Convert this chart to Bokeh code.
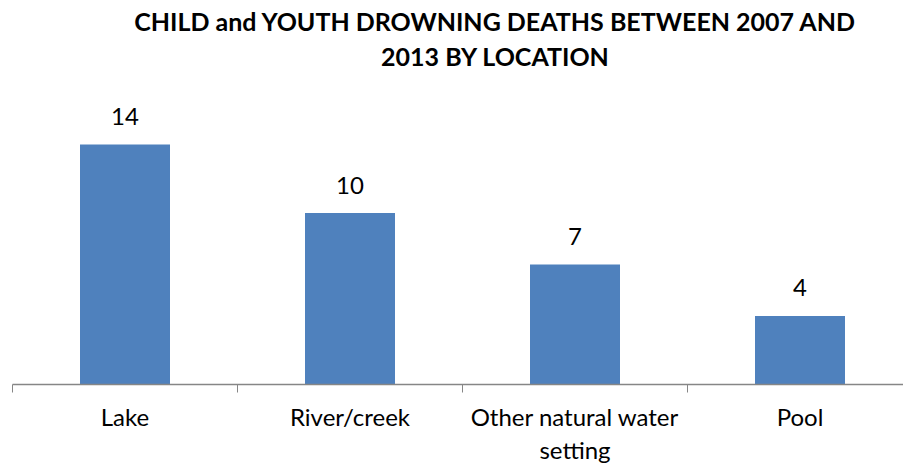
from bokeh.plotting import figure
from bokeh.models import Range1d, FixedTicker, Label
from bokeh.core.properties import value
from bokeh.embed import file_html
from bokeh.resources import INLINE

categories = ["Lake", "River/creek", "Other natural water\nsetting", "Pool"]
deaths = [14, 10, 7, 4]
title_lines = ["CHILD and YOUTH DROWNING DEATHS BETWEEN 2007 AND", "2013 BY LOCATION"]

FONT = "Lato"
BAR = "#4F81BD"
AXIS = "#868686"

idx = list(range(len(categories)))
px_per_unit = 17.14
frame_w = 891
frame_h = 376
cat_px = 225

p = figure(
    frame_width=frame_w, frame_height=frame_h,
    x_range=Range1d(-0.5, -0.5 + frame_w / cat_px),
    y_range=Range1d(0, frame_h / px_per_unit),
    output_backend="svg", toolbar_location=None,
    min_border_left=12, min_border_right=0,
    min_border_top=8, min_border_bottom=80,
)

# title, centred a little right of the frame centre as in the reference
title_x = (495 - 12) / cat_px - 0.5
for k, line in enumerate(title_lines):
    p.add_layout(Label(x=title_x, y=(364 - 35 * k) / px_per_unit, text=line,
                       text_align="center", text_baseline="alphabetic",
                       text_font=FONT, text_font_size="25px", text_font_style="bold",
                       text_color="black"))

p.vbar(x=idx, top=deaths, width=0.4, fill_color=BAR, line_color=None)
p.text(x=idx, y=deaths, text=[str(v) for v in deaths],
       text_align="center", text_baseline="alphabetic", y_offset=-28,
       text_font=value(FONT), text_font_size="24px", text_color="black")

p.outline_line_color = None
p.xgrid.visible = False
p.ygrid.visible = False
p.yaxis.visible = False

ax = p.xaxis[0]
ax.ticker = FixedTicker(ticks=idx, minor_ticks=[i - 0.5 for i in range(len(categories) + 1)])
ax.major_label_overrides = {i: c for i, c in zip(idx, categories)}
ax.major_tick_out = 0
ax.major_tick_in = 0
ax.minor_tick_out = 8
ax.minor_tick_in = 0
ax.minor_tick_line_color = AXIS
ax.axis_line_color = AXIS
ax.axis_line_width = 1.5
ax.major_label_standoff = 9
ax.major_label_text_font = FONT
ax.major_label_text_font_size = "24px"
ax.major_label_text_color = "black"
ax.major_label_text_line_height = 1.15

open("out.html", "w").write(file_html(p, INLINE))
